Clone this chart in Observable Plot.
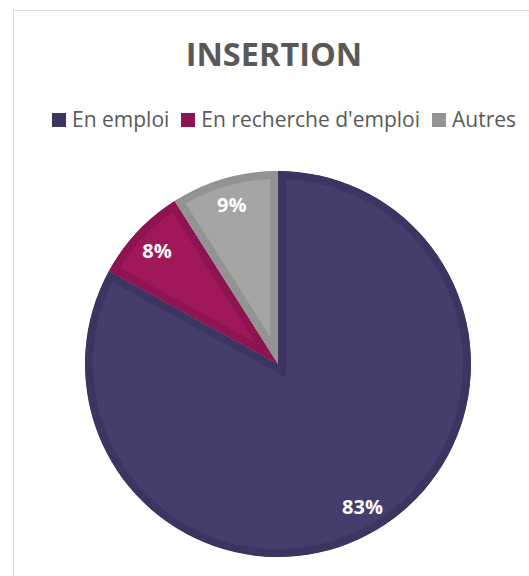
<!DOCTYPE html>
<html><head><meta charset="utf-8">
<script src="https://cdn.jsdelivr.net/npm/d3@7"></script>
<script src="https://cdn.jsdelivr.net/npm/@observablehq/plot@0.6"></script>
<style>
body{margin:0;background:#fff;font-family:"Open Sans",sans-serif;}
#wrap{position:relative;width:529px;height:576px;overflow:hidden;background:#fff;}
#frame{position:absolute;left:13px;top:10px;width:600px;height:700px;border:1.5px solid #d9d9d9;box-sizing:border-box;}
#title{position:absolute;top:32px;left:14px;width:520px;text-align:center;font-weight:700;font-size:32.5px;color:#595959;line-height:44px;}
#legend{position:absolute;top:105px;left:52px;font-size:21px;color:#595959;line-height:28px;white-space:nowrap;}
#legend .item{display:inline-block;margin-right:12px;}
#legend .sw{display:inline-block;width:14px;height:14px;margin-right:6px;vertical-align:baseline;}
#chart{position:absolute;left:0;top:150px;}
</style></head>
<body>
<div id="wrap">
<div id="frame"></div>
<div id="title"></div>
<div id="legend"></div>
<div id="chart"></div>
</div>
<script>
const title = "INSERTION";
const categories = ["En emploi", "En recherche d'emploi", "Autres"];
const values = [83, 8, 9];
const labels = ["83%", "8%", "9%"];
const fillColors = ["#463d6d", "#a0185a", "#a5a5a5"];
const edgeColors = ["#3d3561", "#8d1450", "#939393"];

const data = categories.map((c, i) => ({category: c, value: values[i], label: labels[i]}));

const fillScale = Plot.scale({color: {type: "ordinal", domain: categories, range: fillColors}});
const edgeScale = Plot.scale({color: {type: "ordinal", domain: categories, range: edgeColors}});

document.getElementById("title").textContent = title;
const legend = document.getElementById("legend");
categories.forEach(c => {
  const it = document.createElement("span");
  it.className = "item";
  const sw = document.createElement("span");
  sw.className = "sw";
  sw.style.background = edgeScale.apply(c);
  it.appendChild(sw);
  it.appendChild(document.createTextNode(c));
  legend.appendChild(it);
});

const W = 529, H = 426, CX = 278, CY = 214, R = 193;

function pieMark(index, scales, vals, dims) {
  const g = d3.create("svg:g").attr("transform", `translate(${CX},${CY})`);
  const arcs = d3.pie().sort(null).value(d => d.value)(data);
  const arc = d3.arc().innerRadius(0).outerRadius(R);
  const defs = g.append("defs");
  arcs.forEach((a, i) => {
    const id = "clip" + i;
    defs.append("clipPath").attr("id", id).append("path").attr("d", arc(a));
    g.append("path")
      .attr("d", arc(a))
      .attr("fill", fillScale.apply(a.data.category))
      .attr("stroke", edgeScale.apply(a.data.category))
      .attr("stroke-width", 16)
      .attr("stroke-linejoin", "miter")
      .attr("clip-path", `url(#${id})`);
  });
  const labelArc = d3.arc().innerRadius(R * 0.86).outerRadius(R * 0.86);
  arcs.forEach(a => {
    const [x, y] = labelArc.centroid(a);
    g.append("text")
      .attr("x", x).attr("y", y)
      .attr("text-anchor", "middle")
      .attr("dominant-baseline", "central")
      .attr("fill", "#fff")
      .attr("font-family", "Open Sans, sans-serif")
      .attr("font-weight", 700)
      .attr("font-size", 20)
      .text(a.data.label);
  });
  return g.node();
}

const plot = Plot.plot({
  width: W,
  height: H,
  margin: 0,
  style: {background: "transparent", overflow: "visible"},
  marks: [pieMark]
});
document.getElementById("chart").appendChild(plot);
</script>
</body></html>
